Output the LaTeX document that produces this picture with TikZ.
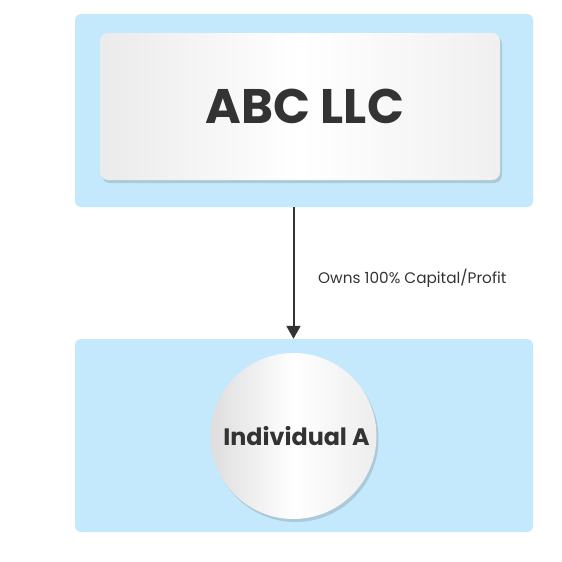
\documentclass[tikz,border=0pt]{standalone}
\usepackage{fontspec}
\setmainfont{Poppins}
\usepackage{xcolor}
\usepackage{tikz}
\usetikzlibrary{positioning,backgrounds,shadows,calc,arrows.meta}
\definecolor{panelblue}{HTML}{C5E9FC}
\definecolor{inkgray}{HTML}{333333}

\begin{document}
\begin{tikzpicture}[x=1pt,y=-1pt,
	panel/.style={fill=panelblue, rounded corners=6pt, minimum width=458pt, minimum height=193pt, inner sep=0pt},
	card/.style={rounded corners=8pt, left color=black!8, right color=black!6, middle color=white, draw=none,
		drop shadow={shadow xshift=2pt, shadow yshift=-3pt, fill=black!45!panelblue, opacity=.3},
		text=inkgray, font=\fontsize{48.5}{52}\selectfont\bfseries},
	disc/.style={circle, left color=black!13, right color=black!7, middle color=white, draw=none,
		drop shadow={shadow xshift=2pt, shadow yshift=-3pt, fill=black!45!panelblue, opacity=.3},
		text=inkgray, font=\fontsize{23.8}{26}\selectfont\bfseries}]
	\useasboundingbox (0,0) rectangle (562,562);
	\node[panel] (topPanel)    at (304,110.5) {};
	\node[panel] (bottomPanel) at (304,435.5) {};
	\node[card, minimum width=400pt, minimum height=147pt] (abc) at (300,106.5) {\hspace*{10pt}ABC LLC};
	\node[disc, minimum size=166pt, inner sep=0pt] (indiv) at (293.5,436) {\hspace*{6pt}Individual A};
	\draw[-{Triangle[length=13pt,width=14pt]}, line width=2pt, inkgray] (indiv.north |- topPanel.south) -- (indiv.north |- bottomPanel.north);
	\node[anchor=west, inner sep=0pt, text=inkgray, font=\fontsize{15.3}{17}\selectfont] (owns) at (318,278.5) {Owns 100\% Capital/Profit};
\end{tikzpicture}
\end{document}
